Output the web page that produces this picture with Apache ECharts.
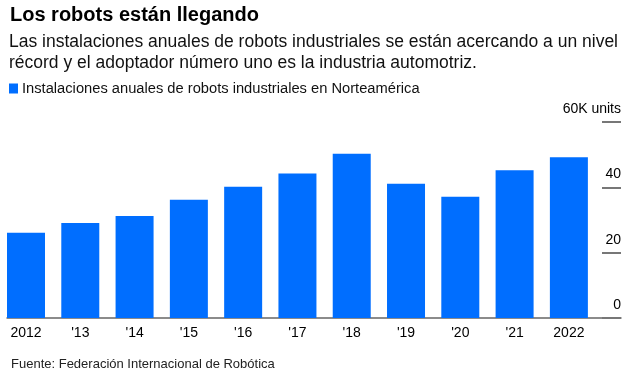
<!DOCTYPE html>
<html>
<head>
<meta charset="utf-8">
<script src="https://cdn.jsdelivr.net/npm/echarts@6/dist/echarts.min.js"></script>
<style>html,body{margin:0;padding:0;background:#fff;}#c{width:635px;height:373px;}</style>
</head>
<body>
<div id="c"></div>
<script>
const categories = ['2012', "'13", "'14", "'15", "'16", "'17", "'18", "'19", "'20", "'21", '2022'];
const installs = [26.1, 29.1, 31.2, 36.2, 40.2, 44.2, 50.3, 41.1, 37.1, 45.2, 49.2];
const yTicks = [0, 20, 40, 60];
const seriesName = 'Instalaciones anuales de robots industriales en Norteamérica';

const font = '"Liberation Sans", Arial, sans-serif';
const chart = echarts.init(document.getElementById('c'), null, {renderer: 'canvas'});
chart.setOption({
  animation: false,
  textStyle: {fontFamily: font},
  title: [
    {text: 'Los robots están llegando', left: 5, top: 0,
     textStyle: {fontFamily: font, fontSize: 20, fontWeight: 'bold', color: '#000'}},
    {text: 'Las instalaciones anuales de robots industriales se están acercando a un nivel\nrécord y el adoptador número uno es la industria automotriz.',
     left: 4, top: 27,
     textStyle: {fontFamily: font, fontSize: 17.5, fontWeight: 'normal', color: '#111', lineHeight: 21}},
    {text: 'Fuente: Federación Internacional de Robótica', left: 6, top: 353,
     textStyle: {fontFamily: font, fontSize: 13, fontWeight: 'normal', color: '#222'}}
  ],
  legend: {
    data: [seriesName], left: 4, top: 76, icon: 'rect', itemWidth: 9, itemHeight: 10, itemGap: 6,
    textStyle: {fontFamily: font, fontSize: 14.7, color: '#111', padding: [0,0,0,-1]}
  },
  grid: {left: 7, right: 14, top: 122, bottom: 55, containLabel: false},
  xAxis: {
    type: 'value', min: -0.35, max: 10.96,
    splitLine: {show: false},
    axisTick: {show: false},
    axisLine: {show: true, onZero: true, lineStyle: {color: '#666', width: 1.5}},
    axisLabel: {
      customValues: categories.map((c, i) => i),
      formatter: v => categories[Math.round(v)],
      color: '#000', fontSize: 14, fontFamily: font, margin: 8
    }
  },
  yAxis: {
    type: 'value', position: 'right', offset: -19, min: yTicks[0], max: yTicks[yTicks.length - 1], interval: 20,
    splitLine: {show: false},
    axisLine: {show: false, onZero: false},
    axisTick: {show: true, inside: false, length: 19, lineStyle: {color: '#777', width: 2}},
    axisLabel: {
      inside: false, margin: 19, align: 'right', verticalAlign: 'bottom', padding: [0, 0, 6, 0],
      formatter: v => v === 60 ? '60K units' : String(v),
      color: '#000', fontSize: 14, fontFamily: font
    }
  },
  series: [{
    name: seriesName, type: 'bar', barWidth: 38,
    itemStyle: {color: '#006eff'},
    data: installs.map((v, i) => [i, v])
  }]
});
</script>
</body>
</html>
